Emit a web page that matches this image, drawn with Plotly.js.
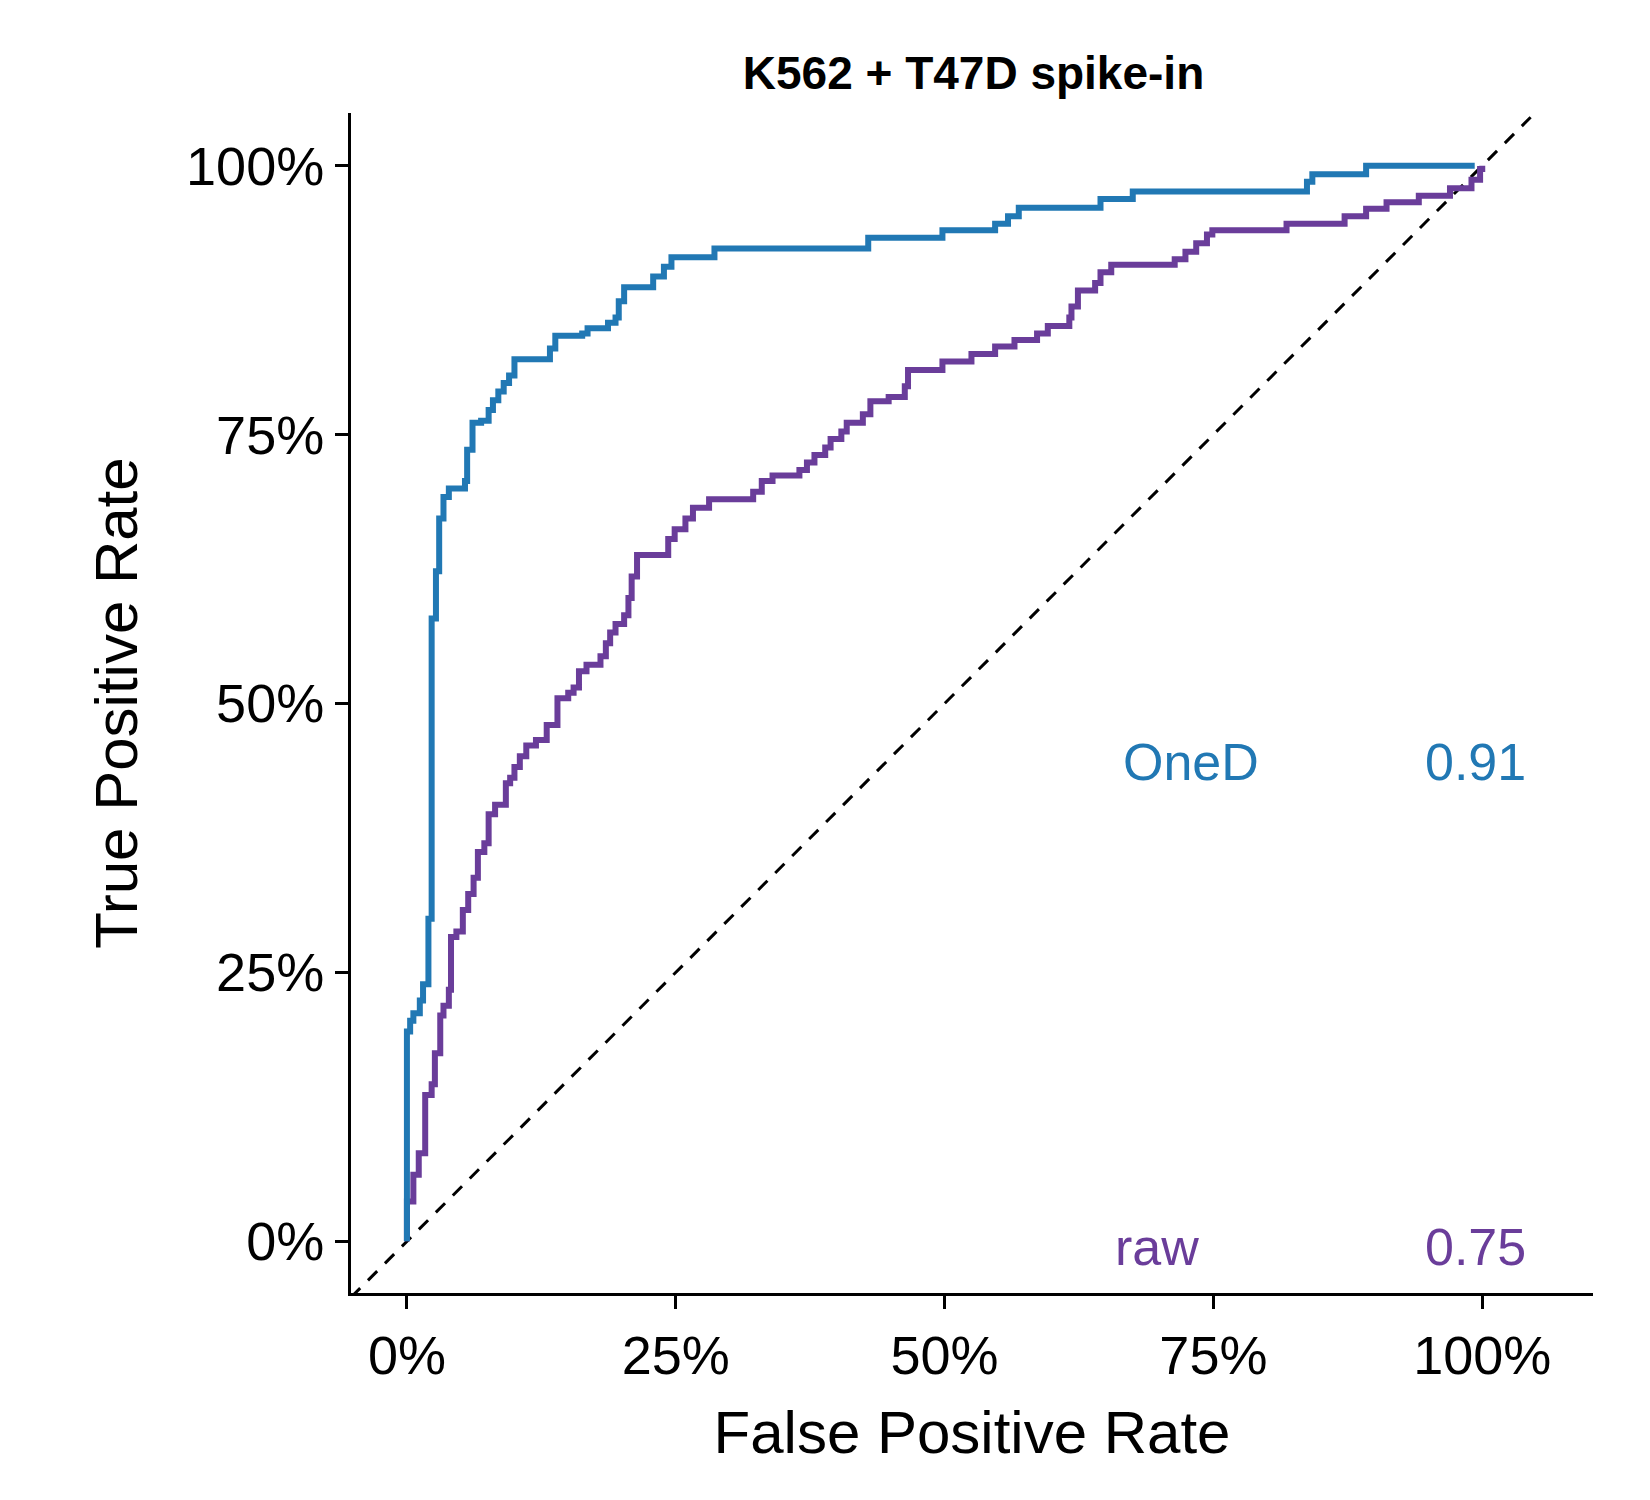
<!DOCTYPE html>
<html>
<head>
<meta charset="utf-8">
<script src="https://cdn.plot.ly/plotly-3.0.1.min.js"></script>
</head>
<body style="margin:0">
<div id="myDiv"></div>
<script>
// ROC step points, percent units (FPR, TPR)
var onedFpr = [0, 0, 0.3, 0.6, 1.2, 1.5, 2.0, 2.3, 2.7, 3.0, 3.4, 3.9, 5.4, 5.6, 6.1, 6.9, 7.6, 8.0, 8.5, 9.0, 9.5, 10.0,
  13.3, 13.8, 16.3, 16.8, 18.7, 19.4, 19.7, 20.2, 22.9, 23.9, 24.6, 28.6, 42.9, 49.8, 54.7, 55.9, 56.9, 64.5, 67.5,
  83.7, 84.2, 89.2, 99.3];
var onedTpr = [0, 19.5, 20.5, 21.2, 22.4, 23.9, 30.0, 57.9, 62.3, 67.2, 69.2, 70.0, 70.7, 73.6, 76.1, 76.3, 77.3, 78.2, 79.0, 79.8, 80.5, 82.0,
  83.0, 84.2, 84.4, 84.9, 85.4, 85.9, 87.4, 88.7, 89.7, 90.6, 91.5, 92.3, 93.3, 94.0, 94.6, 95.3, 96.1, 96.9, 97.6,
  98.5, 99.2, 100, 100];
var rawFpr = [0, 0, 0.6, 1.1, 1.7, 2.3, 2.6, 3.1, 3.4, 3.9, 4.1, 4.6, 5.2, 5.7, 6.2, 6.6, 7.2, 7.6, 8.2, 9.2,
  9.6, 10.0, 10.5, 11.1, 12.0, 13.0, 14.0, 15.0, 15.5, 16.0, 16.7, 18.0, 18.5, 18.9, 19.4, 20.2, 20.6, 20.9, 21.4, 24.3,
  24.9, 25.9, 26.6, 28.1, 32.2, 33.0, 34.0, 36.5, 37.2, 37.9, 38.9, 39.4, 40.4, 40.9, 42.4, 43.1, 44.8, 46.3, 46.6, 49.8,
  52.5, 54.7, 56.5, 58.6, 59.6, 61.6, 61.8, 62.4, 64.0, 64.5, 65.5, 71.4, 72.4, 73.4, 74.4, 74.9, 81.8, 87.2, 89.2, 91.1,
  94.1, 97.0, 99.0, 99.8, 100];
var rawTpr = [0, 3.7, 6.2, 8.2, 13.6, 14.6, 17.5, 21.0, 21.9, 23.4, 28.3, 28.8, 30.8, 32.3, 33.8, 36.2, 37.0, 39.7, 40.6, 42.6,
  43.1, 44.1, 45.1, 46.1, 46.6, 48.0, 50.5, 51.0, 51.5, 53.0, 53.6, 54.4, 55.6, 56.6, 57.4, 58.2, 59.8, 61.8, 63.8, 65.3,
  66.2, 67.2, 68.2, 69.0, 69.7, 70.7, 71.2, 71.7, 72.4, 73.1, 73.8, 74.6, 75.3, 76.1, 76.9, 78.1, 78.5, 79.5, 81.0, 81.8,
  82.5, 83.2, 83.8, 84.4, 85.1, 85.9, 86.9, 88.4, 89.1, 90.1, 90.8, 91.3, 92.0, 92.8, 93.6, 94.0, 94.6, 95.3, 96.0, 96.6,
  97.2, 97.9, 98.7, 99.7, 100];
var methods = ['OneD', 'raw'];
var aucs = ['0.91', '0.75'];
var colors = ['#2178b4', '#6a3d9a'];
var diag = [-5.2, 104.5];
var tickVals = [0, 25, 50, 75, 100];
var tickText = ['0%', '25%', '50%', '75%', '100%'];

var data = [
  {x: diag, y: diag, mode: 'lines', line: {color: 'black', width: 3, dash: '13px,11px'}, hoverinfo: 'skip'},
  {x: rawFpr, y: rawTpr, mode: 'lines', line: {color: colors[1], width: 6, shape: 'hv'}, name: methods[1]},
  {x: onedFpr, y: onedTpr, mode: 'lines', line: {color: colors[0], width: 6, shape: 'hv'}, name: methods[0]}
];

var fam = 'Liberation Sans, Arial, sans-serif';
var fnt = {family: fam, size: 54, color: 'black'};
var ann = [];
var labY = [44.6, -0.5];
for (var i = 0; i < 2; i++) {
  ann.push({x: 72.9 - i * 3.1, y: labY[i], text: methods[i], showarrow: false, font: {family: fam, size: 52, color: colors[i]}});
  ann.push({x: 99.4, y: labY[i], text: aucs[i], showarrow: false, font: {family: fam, size: 52, color: colors[i]}});
}

var axis = {
  showgrid: false, zeroline: false, showline: true, linecolor: 'black', linewidth: 3,
  ticks: 'outside', ticklen: 13, tickwidth: 3, tickcolor: 'black',
  tickmode: 'array', tickvals: tickVals, ticktext: tickText, tickfont: fnt
};

var layout = {
  width: 1650, height: 1500,
  margin: {l: 351, r: 57, t: 113, b: 207},
  showlegend: false,
  plot_bgcolor: 'white', paper_bgcolor: 'white',
  title: {text: '<b>K562 + T47D spike-in</b>', x: 0.59, xanchor: 'center', y: 0.962,
    font: {family: fam, size: 46, color: 'black'}},
  xaxis: Object.assign({}, axis, {range: [-5.2, 110.3],
    title: {text: 'False Positive Rate', font: {family: fam, size: 60, color: 'black'}, standoff: 28}}),
  yaxis: Object.assign({}, axis, {range: [-4.8, 104.9],
    title: {text: 'True Positive Rate', font: {family: fam, size: 60, color: 'black'}, standoff: 30}}),
  annotations: ann
};

Plotly.newPlot('myDiv', data, layout, {displayModeBar: false});
</script>
</body>
</html>
